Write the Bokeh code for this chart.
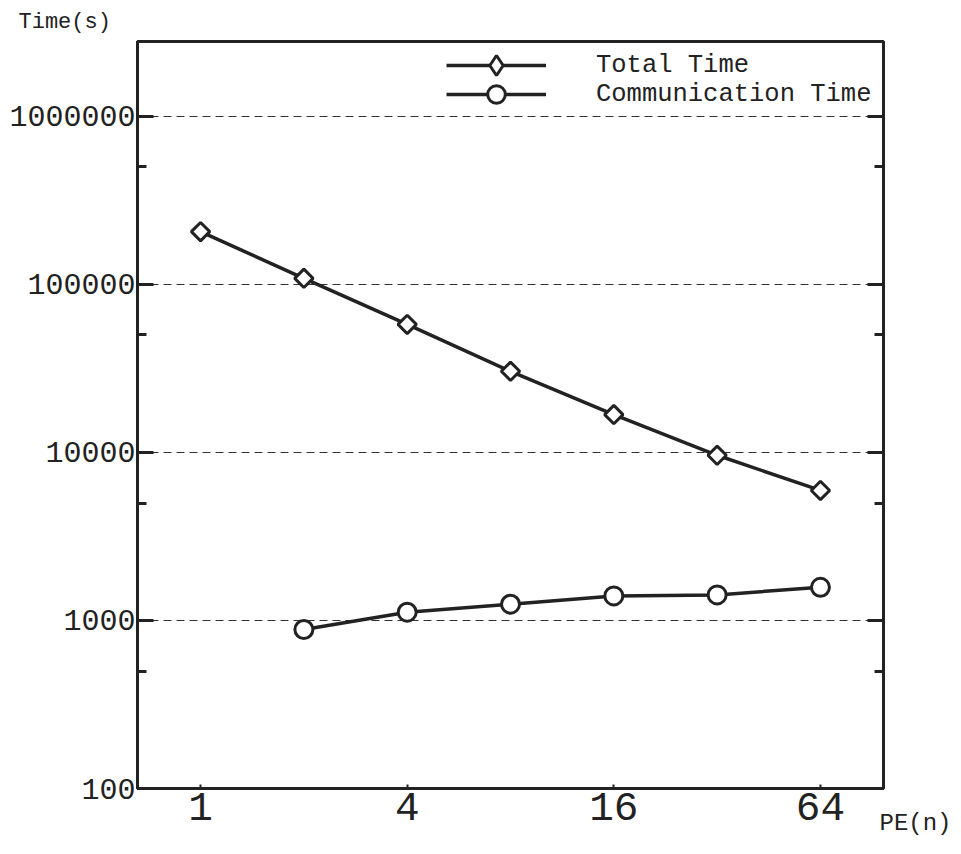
from bokeh.plotting import figure
from bokeh.models import (FixedTicker, LogAxis, Legend, LegendItem, Title, Range1d,
                          NumeralTickFormatter)
from bokeh.embed import file_html
from bokeh.resources import INLINE
import numpy as np

# ---- data ----
pe_total = [1, 2, 4, 8, 16, 32, 64]
total_time = [206000, 108700, 57800, 30400, 16800, 9620, 5940]
pe_comm = [2, 4, 8, 16, 32, 64]
comm_time = [884, 1120, 1250, 1400, 1420, 1575]
x_ticks = [1, 4, 16, 64]
y_ticks = [100, 1000, 10000, 100000, 1000000]
y_minor = [500, 5000, 50000, 500000]
series_names = ["Total Time", "Communication Time"]
x_title = "PE(n)"
y_title = "Time(s)"

FONT = "Liberation Mono"
INK = "#222222"

p = figure(frame_width=746, frame_height=747,
           x_axis_type="log", y_axis_type="log",
           x_range=Range1d(0.655, 97.7), y_range=Range1d(100, 2.79e6),
           output_backend="svg", toolbar_location=None,
           min_border_left=137, min_border_top=40, min_border_right=70,
           min_border_bottom=51, background_fill_color="white",
           border_fill_color="white")

p.outline_line_color = INK
p.outline_line_width = 3
p.outline_line_alpha = 1

# x axis
xa = p.xaxis[0]
xa.ticker = FixedTicker(ticks=x_ticks, minor_ticks=[])
xa.formatter = NumeralTickFormatter(format="0")
xa.major_label_text_font = FONT
xa.major_label_text_font_size = "41px"
xa.major_label_text_color = INK
xa.major_tick_in = 4
xa.major_tick_out = 0
xa.major_tick_line_width = 2
xa.major_tick_line_color = INK
xa.minor_tick_line_color = None
xa.axis_line_color = INK
xa.axis_line_width = 3
xa.major_label_standoff = 4

# y axis (left)
ya = p.yaxis[0]
ya.ticker = FixedTicker(ticks=y_ticks, minor_ticks=y_minor)
ya.formatter = NumeralTickFormatter(format="0")
ya.major_label_text_font = FONT
ya.major_label_text_font_size = "30px"
ya.major_label_text_color = INK
ya.major_tick_in = 16
ya.major_tick_out = 0
ya.minor_tick_in = 9
ya.minor_tick_out = 0
ya.major_tick_line_width = 3
ya.minor_tick_line_width = 3
ya.major_tick_line_color = INK
ya.minor_tick_line_color = INK
ya.axis_line_color = INK
ya.axis_line_width = 3
ya.major_label_standoff = 2

# y axis (right, ticks only)
ra = LogAxis(ticker=FixedTicker(ticks=y_ticks, minor_ticks=y_minor),
             major_label_text_color=None, major_label_text_font_size="1px",
             major_tick_in=16, major_tick_out=0, minor_tick_in=9, minor_tick_out=0,
             major_tick_line_width=3, minor_tick_line_width=3,
             major_tick_line_color=INK, minor_tick_line_color=INK,
             axis_line_color=INK, axis_line_width=3)
p.add_layout(ra, "right")

# grid
p.xgrid.grid_line_color = None
p.ygrid.ticker = FixedTicker(ticks=y_ticks)
p.ygrid.grid_line_color = "#333333"
p.ygrid.grid_line_dash = "8 5"
p.ygrid.grid_line_width = 1

# series
r1l = p.line(pe_total, total_time, line_color=INK, line_width=3.5)
r1m = p.scatter(pe_total, total_time, marker="square", angle=np.pi / 4, size=13,
                fill_color="white", line_color=INK, line_width=3)
r2l = p.line(pe_comm, comm_time, line_color=INK, line_width=3.5)
r2m = p.scatter(pe_comm, comm_time, marker="circle", size=18,
                fill_color="white", line_color=INK, line_width=3)
# legend-only marker (diamond shape in the key)
r1k = p.scatter(pe_total, total_time, marker="diamond", size=18,
                fill_color="white", line_color=INK, line_width=3, visible=False)

common = dict(glyph_width=100, label_standoff=50, padding=0,
              margin=0, border_line_color=None, background_fill_alpha=0,
              label_text_font=FONT, label_text_font_size="25.5px",
              label_text_color=INK)
leg1 = Legend(items=[LegendItem(label=series_names[0], renderers=[r1l, r1k])],
              location=(309, 698), glyph_height=50, label_height=50, **common)
leg2 = Legend(items=[LegendItem(label=series_names[1], renderers=[r2l, r2m])],
              location=(309, 672), glyph_height=44, label_height=44, **common)
p.add_layout(leg1, "center")
p.add_layout(leg2, "center")

# axis titles
p.add_layout(Title(text=y_title, align="left", offset=-119, standoff=14,
                   text_font=FONT, text_font_size="22px", text_font_style="normal",
                   text_color=INK), "above")
p.add_layout(Title(text=x_title, align="right", offset=-68, standoff=-26,
                   vertical_align="top",
                   text_font=FONT, text_font_size="24px", text_font_style="normal",
                   text_color=INK), "below")

open("out.html", "w").write(file_html(p, INLINE))
